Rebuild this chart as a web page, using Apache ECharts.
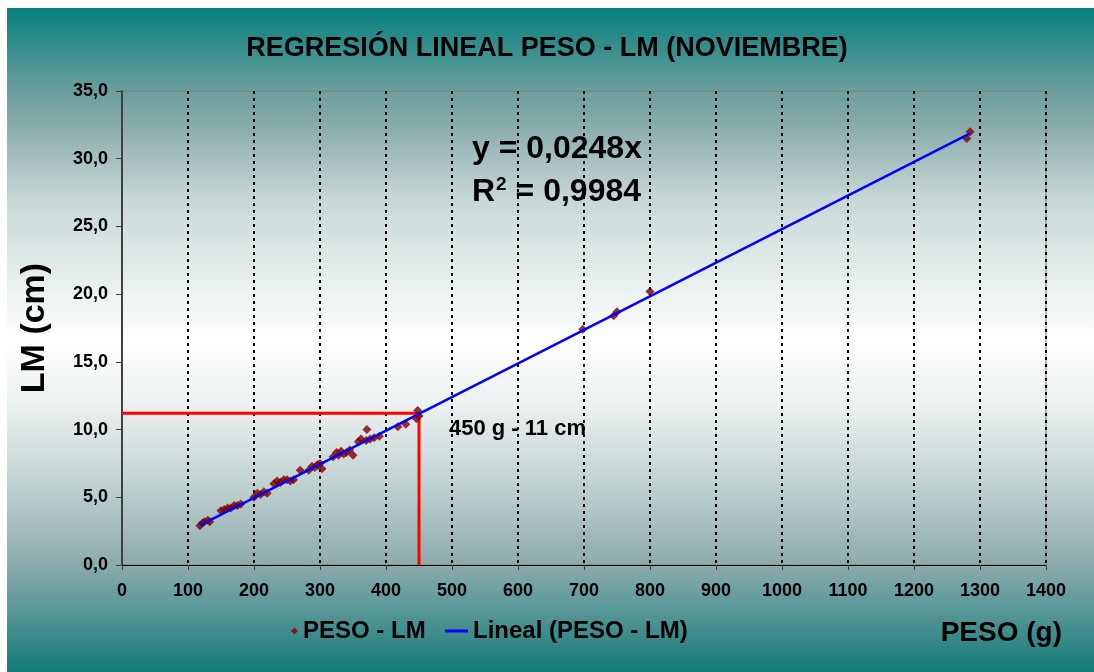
<!DOCTYPE html>
<html>
<head>
<meta charset="utf-8">
<script src="https://cdn.jsdelivr.net/npm/echarts@6/dist/echarts.min.js"></script>
<style>html,body{margin:0;padding:0;background:#fff}#c{width:1094px;height:672px}</style>
</head>
<body>
<div id="c"></div>
<script>
const title = 'REGRESIÓN LINEAL PESO - LM (NOVIEMBRE)';
const xTicks = [0,100,200,300,400,500,600,700,800,900,1000,1100,1200,1300,1400];
const yTicks = [0,5,10,15,20,25,30,35];
const pesoG = [118,122,125,130,133, 150,155,160,165,170,175,180, 200,205,210,215,220, 230,235,240,245,250,255,260, 270, 283,288,292,296,300,303, 320,325,328,332,336,340,345,350, 358,362,370,376,382,390, 371, 418,430, 446,448,450, 698, 745,750, 800, 1280,1285];
const lmCm  = [2.9,3.1,3.2,3.3,3.2, 4.0,4.1,4.2,4.2,4.4,4.4,4.5, 5.0,5.3,5.2,5.4,5.3, 6.0,6.2,6.1,6.3,6.3,6.2,6.3, 7.0, 7.0,7.3,7.2,7.4,7.5,7.1, 8.0,8.3,8.1,8.4,8.2,8.3,8.5,8.1, 9.1,9.3,9.2,9.3,9.4,9.5, 10.0, 10.2,10.4, 10.8,11.4,11.0, 17.4, 18.4,18.7, 20.2, 31.5,32.0];
const slope = 0.0248;
const r2 = '0,9984';
const trendX = [118, 1285];
const refX = 450, refY = 11.2;
const refLabel = '450 g - 11 cm';

const scatterData = pesoG.map((x,i)=>[x, lmCm[i]]);
const trendData = trendX.map(x=>[x, slope*x]);
const refData = [[0, refY],[refX, refY],[refX, 0]];
const fmtY = v => v.toFixed(1).replace('.', ',');

const chart = echarts.init(document.getElementById('c'), null, {renderer:'canvas'});
const F = 'Liberation Sans, Arial, sans-serif';
const legText = {fontSize:24, fontWeight:'bold', color:'#000', fontFamily:F};
chart.setOption({
  animation:false,
  textStyle:{fontFamily:F},
  graphic:[
    {type:'rect', z:-10, shape:{x:7,y:8,width:1087,height:664},
     style:{fill:new echarts.graphic.LinearGradient(0,0,0,1,[
       {offset:0,color:'#067f7f'},{offset:0.125,color:'#6b9f9d'},{offset:0.17,color:'#84aaa8'},
       {offset:0.29,color:'#c8d8d7'},{offset:0.5,color:'#ffffff'},{offset:0.59,color:'#eef2f2'},
       {offset:0.71,color:'#c4d3d3'},{offset:0.84,color:'#8aabab'},{offset:1,color:'#147a7a'}])}},
    {type:'text', left:472, top:133, z:10, style:{text:'y = 0,0248x', font:'bold 32px '+F, fill:'#000'}},
    {type:'text', left:472, top:175, z:10, style:{text:'{a|R}{s|2}{a| = '+r2+'}', font:'bold 32px '+F, fill:'#000',
      rich:{a:{font:'bold 32px '+F, fill:'#000'}, s:{font:'bold 19px '+F, fill:'#000', verticalAlign:'top', padding:[0,0,16,1]}}}},
    {type:'text', left:449, top:418, z:10, style:{text:refLabel, font:'bold 22px '+F, fill:'#000'}}
  ],
  title:{text:title, left:'center', top:30, textStyle:{fontSize:27, fontWeight:'bold', color:'#000', fontFamily:F}},
  grid:{left:122, right:48, top:91, bottom:107, show:true, borderColor:'#808080', borderWidth:1, backgroundColor:'transparent'},
  legend:[
    {left:286, bottom:24, itemWidth:7, itemHeight:7, itemGap:12, textStyle:legText,
     data:[{name:'PESO - LM', icon:'diamond'}]},
    {left:440, bottom:24, itemWidth:23, itemHeight:3, itemGap:8, textStyle:legText,
     data:[{name:'Lineal (PESO - LM)', icon:'rect'}]}
  ],
  xAxis:{type:'value', min:0, max:1400, interval:100,
    name:'PESO (g)', nameLocation:'end', nameGap:0,
    nameTextStyle:{fontSize:28, fontWeight:'bold', color:'#000', fontFamily:F, align:'right', verticalAlign:'top', padding:[54,-16,0,0]},
    axisLine:{onZero:false, lineStyle:{color:'#000', width:1}},
    axisTick:{show:true, length:5, lineStyle:{color:'#404040'}},
    axisLabel:{fontSize:18, fontWeight:'bold', color:'#000', margin:17, fontFamily:F, formatter:v=>String(v)},
    splitLine:{show:true, lineStyle:{color:'#000', width:2, type:[3,4]}}},
  yAxis:{type:'value', min:0, max:35, interval:5,
    name:'LM (cm)', nameLocation:'middle', nameGap:70, nameRotate:90,
    nameTextStyle:{fontSize:34, fontWeight:'bold', color:'#000', fontFamily:F},
    axisLine:{show:true, lineStyle:{color:'#404040', width:2}},
    axisTick:{show:true, length:6, lineStyle:{color:'#404040'}},
    axisLabel:{fontSize:18, fontWeight:'bold', color:'#000', margin:14, formatter:fmtY, fontFamily:F},
    splitLine:{show:false}},
  series:[
    {name:'PESO - LM', type:'scatter', data:scatterData, symbol:'diamond', symbolSize:9,
     itemStyle:{color:'#800000'}, z:3},
    {name:'Lineal (PESO - LM)', type:'line', data:trendData, showSymbol:false, symbol:'none',
     lineStyle:{color:'#0000ff', width:2.5}, itemStyle:{color:'#0000ff'}, z:4},
    {name:'ref', type:'line', data:refData, showSymbol:false, symbol:'none', clip:false,
     lineStyle:{color:'#ff0000', width:3}, z:2, silent:true}
  ]
});
</script>
</body>
</html>
